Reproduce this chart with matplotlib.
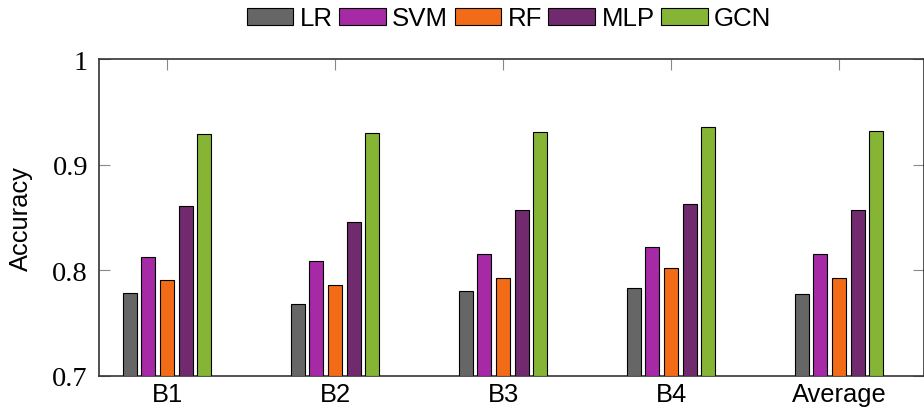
import matplotlib
matplotlib.use("Agg")
import matplotlib.pyplot as plt
import numpy as np

categories = ["B1", "B2", "B3", "B4", "Average"]
models = ["LR", "SVM", "RF", "MLP", "GCN"]
LR = [0.779, 0.768, 0.780, 0.783, 0.778]
SVM = [0.813, 0.809, 0.815, 0.822, 0.815]
RF = [0.791, 0.786, 0.793, 0.802, 0.793]
MLP = [0.861, 0.846, 0.857, 0.863, 0.857]
GCN = [0.929, 0.930, 0.931, 0.936, 0.932]
series = [LR, SVM, RF, MLP, GCN]
colors = ["#666666", "#A62AA6", "#F26B16", "#712A6E", "#86B536"]
yticks = [0.7, 0.8, 0.9, 1.0]
ytick_labels = ["0.7", "0.8", "0.9", "1"]

fig = plt.figure(figsize=(9.24, 4.10), dpi=100)
ax = fig.add_axes([99/924, 1-377/410, (924-99)/924, (377-60)/410])

x = np.arange(len(categories))
step = 0.111
width = 0.083
for i, (name, vals, c) in enumerate(zip(models, series, colors)):
    ax.bar(x + (i-2)*step, np.array(vals)-0.7, bottom=0.7, width=width, color=c,
           edgecolor="black", linewidth=0.8, label=name, zorder=3)

ax.set_ylim(0.7, 1.0)
ax.set_xlim(-0.405, 4.506)
ax.set_yticks(yticks)
ax.set_yticklabels(ytick_labels, fontfamily="Liberation Serif", fontsize=20.5)
ax.set_xticks(x)
ax.set_xticklabels(categories, fontfamily="Liberation Sans", fontsize=18.4)
ax.tick_params(axis="both", direction="in", length=8, width=0.8, color="#888888",
               top=True, right=True)
ax.tick_params(axis="y", pad=8)
ax.tick_params(axis="x", pad=4)
ax.set_ylabel("Accuracy", fontfamily="Liberation Sans", fontsize=18.4)
ax.yaxis.set_label_coords(-0.08, 0.5)
for s in ax.spines.values():
    s.set_linewidth(1.2)
    s.set_color("#333333")

leg = fig.legend(loc="center", bbox_to_anchor=(0.551, 1-19.5/410), ncol=5,
                 frameon=False, prop={"family": "Liberation Sans", "size": 18.6},
                 handlelength=1.8, handleheight=0.6, handletextpad=0.25,
                 columnspacing=0.25, borderpad=0.1)

fig.savefig("out.png", dpi=100)
